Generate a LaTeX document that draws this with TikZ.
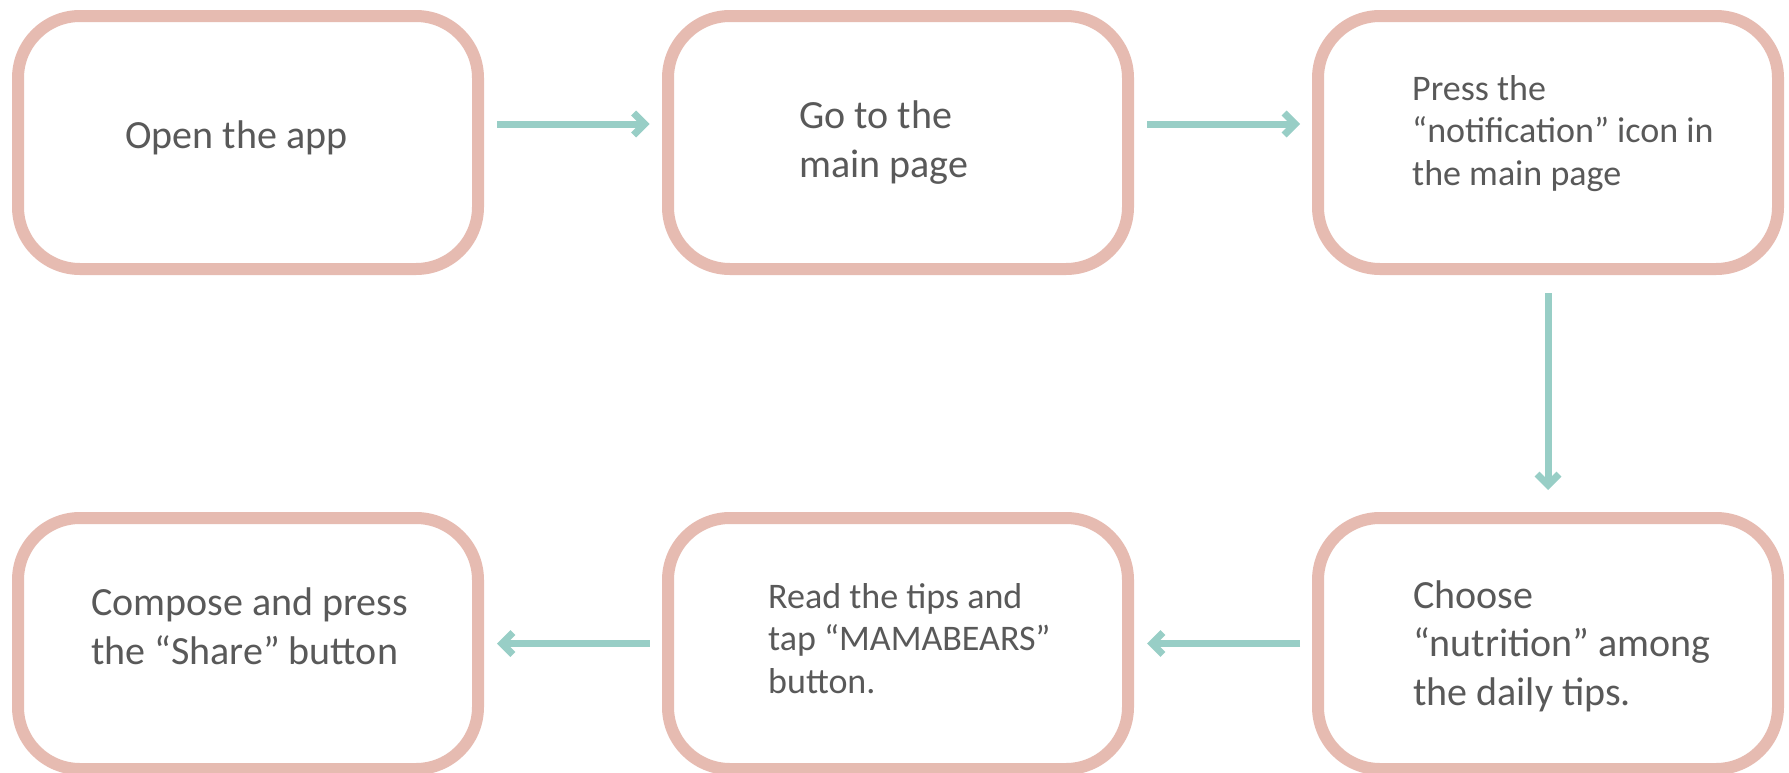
\documentclass[tikz,border=0pt]{standalone}
\usepackage{fontspec}
\setmainfont{Carlito}
\usetikzlibrary{arrows.meta}
\definecolor{boxc}{HTML}{E6BBB1}
\definecolor{arrc}{HTML}{98CEC6}
\definecolor{txtc}{HTML}{595959}
\tikzset{
  stepbox/.style={draw=boxc, line width=12pt, rounded corners=62pt, minimum width=460pt, fill=white, inner sep=0pt},
  toprow/.style={minimum height=253pt},
  botrow/.style={minimum height=251pt},
  flow/.style={draw=arrc, line width=7pt, -{Straight Barb[length=11pt,width=22pt,line width=7pt]}},
  bigtxt/.style={anchor=base west, text=txtc, align=left, inner sep=0pt, font=\fontsize{40}{48.5}\selectfont},
  smalltxt/.style={anchor=base west, text=txtc, align=left, inner sep=0pt, font=\fontsize{36}{42.5}\selectfont},
}
\begin{document}
\begin{tikzpicture}[x=1pt,y=-1pt]
\useasboundingbox (0,0) rectangle (1789,772);
\node[stepbox,toprow] (b1) at (248,142.5) {};
\node[stepbox,toprow] (b2) at (898,142.5) {};
\node[stepbox,toprow] (b3) at (1548,142.5) {};
\node[stepbox,botrow] (b4) at (248,643.5) {};
\node[stepbox,botrow] (b5) at (898,643.5) {};
\node[stepbox,botrow] (b6) at (1548,643.5) {};

\node[bigtxt] (t1) at (125,148) {Open the app};
\node[bigtxt] (t2) at (799,177) {Go to the\\main page};
\node[smalltxt] (t3) at (1412,185) {Press the\\“notification” icon in\\the main page};
\node[bigtxt] (t4) at (91,664) {Compose and press\\the “Share” button};
\node[smalltxt] (t5) at (768,693) {Read the tips and\\tap “MAMABEARS”\\button.};
\node[bigtxt] (t6) at (1413,705) {Choose\\“nutrition” among\\the daily tips.};

\draw[flow, shorten <=13pt, shorten >=12.5pt] ([yshift=18.5pt]b1.east) -- ([yshift=18.5pt]b2.west);
\draw[flow, shorten <=13pt, shorten >=12pt] ([yshift=18.5pt]b2.east) -- ([yshift=18.5pt]b3.west);
\draw[flow, shorten <=18pt, shorten >=22pt] (b3.south) -- (b6.north);
\draw[flow, shorten <=12pt, shorten >=13pt] (b6.west) -- (b5.east);
\draw[flow, shorten <=12.5pt, shorten >=13pt] (b5.west) -- (b4.east);
\end{tikzpicture}
\end{document}
